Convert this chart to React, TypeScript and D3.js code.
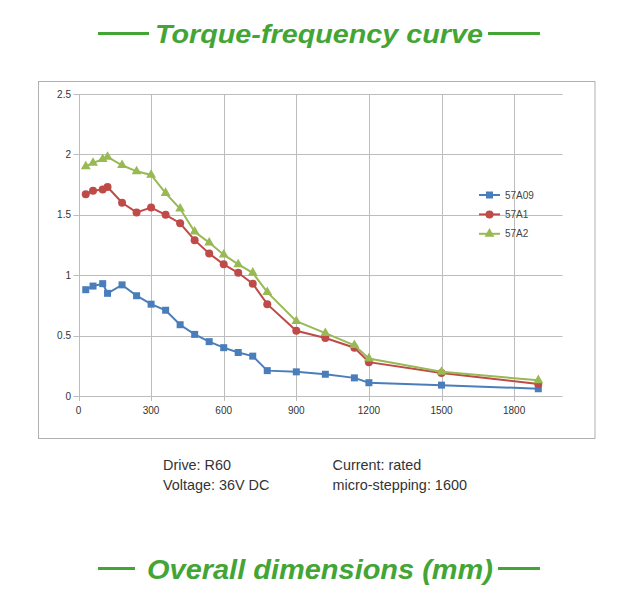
import React from "react";
import * as d3 from "d3";

const freqs = [30, 60, 100, 120, 180, 240, 300, 360, 420, 480, 540, 600, 660, 720, 780, 900, 1020, 1140, 1200, 1500, 1900];
const s57A09 = [0.88, 0.91, 0.93, 0.85, 0.92, 0.83, 0.76, 0.71, 0.59, 0.51, 0.45, 0.4, 0.36, 0.33, 0.21, 0.2, 0.18, 0.15, 0.11, 0.09, 0.06];
const s57A1 = [1.67, 1.7, 1.71, 1.73, 1.6, 1.52, 1.56, 1.5, 1.43, 1.29, 1.18, 1.09, 1.02, 0.93, 0.76, 0.54, 0.48, 0.4, 0.28, 0.19, 0.1];
const s57A2 = [1.9, 1.93, 1.96, 1.98, 1.91, 1.86, 1.83, 1.68, 1.55, 1.36, 1.27, 1.17, 1.09, 1.02, 0.86, 0.62, 0.52, 0.42, 0.31, 0.2, 0.13];
const seriesNames = ["57A09", "57A1", "57A2"];
const seriesColors = ["#4a7ebb", "#be4b48", "#98b954"];
const seriesShapes = ["square", "circle", "triangle"];
const xTicks = [0, 300, 600, 900, 1200, 1500, 1800];
const yTicks = [0, 0.5, 1, 1.5, 2, 2.5];
const yTickLabels = ["0", "0.5", "1", "1.5", "2", "2.5"];
const titleText = "Torque-frequency curve";
const bottomTitle = "Overall dimensions (mm)";
const notesLeft = ["Drive: R60", "Voltage: 36V DC"];
const notesRight = ["Current: rated", "micro-stepping: 1600"];

const GREEN = "#43a535";

function Marker({ shape, x, y, color }: { shape: string; x: number; y: number; color: string }) {
  if (shape === "square") return <rect x={x - 3.5} y={y - 3.5} width={7} height={7} fill={color} />;
  if (shape === "circle") return <circle cx={x} cy={y} r={4} fill={color} />;
  const p = d3.symbol(d3.symbolTriangle, 42)();
  return <path d={p || ""} transform={`translate(${x},${y})`} fill={color} />;
}

export default function App() {
  const x = d3.scaleLinear().domain([0, 2000]).range([78.5, 562.5]);
  const y = d3.scaleLinear().domain([0, 2.5]).range([396, 94]);
  const data = [s57A09, s57A1, s57A2];
  const line = d3
    .line<number>()
    .x((_, i) => x(freqs[i]))
    .y((d) => y(d));
  const font = "'Liberation Sans', Arial, sans-serif";
  return (
    <svg width={640} height={612} style={{ position: "absolute", left: 0, top: 0, background: "#fff" }} fontFamily={font}>
      {/* top title */}
      <line x1={98} x2={149} y1={33.5} y2={33.5} stroke={GREEN} strokeWidth={3} />
      <line x1={488} x2={540} y1={33.5} y2={33.5} stroke={GREEN} strokeWidth={3} />
      <text x={155} y={42.5} textLength={328} lengthAdjust="spacingAndGlyphs" fontSize={26} fontWeight="bold" fontStyle="italic" fill={GREEN}>
        {titleText}
      </text>
      {/* chart box */}
      <rect x={38.5} y={81.5} width={556.5} height={357} fill="#fff" stroke="#b0b0b0" strokeWidth={1} />
      {/* grid */}
      {yTicks.map((t) => (
        <line key={"gy" + t} x1={73.5} x2={562.5} y1={Math.round(y(t)) + 0.5} y2={Math.round(y(t)) + 0.5} stroke="#bdbdbd" strokeWidth={1} />
      ))}
      {xTicks.map((t) => (
        <line key={"gx" + t} x1={Math.round(x(t)) + 0.5} x2={Math.round(x(t)) + 0.5} y1={94} y2={401} stroke="#bdbdbd" strokeWidth={1} />
      ))}
      {yTicks.map((t, i) => (
        <text key={"yl" + t} x={71} y={y(t) + 3.5} textAnchor="end" fontSize={10} fill="#333">
          {yTickLabels[i]}
        </text>
      ))}
      {xTicks.map((t) => (
        <text key={"xl" + t} x={x(t)} y={414} textAnchor="middle" fontSize={10} fill="#333">
          {t}
        </text>
      ))}
      {/* series */}
      {data.map((s, si) => (
        <g key={seriesNames[si]}>
          <path d={line(s) || ""} fill="none" stroke={seriesColors[si]} strokeWidth={2} />
          {s.map((v, i) => (
            <Marker key={i} shape={seriesShapes[si]} x={x(freqs[i])} y={y(v)} color={seriesColors[si]} />
          ))}
        </g>
      ))}
      {/* legend */}
      {seriesNames.map((n, i) => {
        const ly = 195 + i * 19.4;
        return (
          <g key={"lg" + n}>
            <line x1={479} x2={500} y1={ly} y2={ly} stroke={seriesColors[i]} strokeWidth={2} />
            <Marker shape={seriesShapes[i]} x={489.5} y={ly} color={seriesColors[i]} />
            <text x={505} y={ly + 3.5} fontSize={10} fill="#444">
              {n}
            </text>
          </g>
        );
      })}
      {/* notes */}
      {notesLeft.map((t, i) => (
        <text key={"nl" + i} x={163} y={470 + i * 20} fontSize={14.4} fill="#333">
          {t}
        </text>
      ))}
      {notesRight.map((t, i) => (
        <text key={"nr" + i} x={332.5} y={470 + i * 20} fontSize={14.4} fill="#333">
          {t}
        </text>
      ))}
      {/* bottom title */}
      <line x1={98} x2={135} y1={568.5} y2={568.5} stroke={GREEN} strokeWidth={3} />
      <line x1={498} x2={540} y1={568.5} y2={568.5} stroke={GREEN} strokeWidth={3} />
      <text x={147} y={578.5} textLength={346} lengthAdjust="spacingAndGlyphs" fontSize={27} fontWeight="bold" fontStyle="italic" fill={GREEN}>
        {bottomTitle}
      </text>
    </svg>
  );
}
